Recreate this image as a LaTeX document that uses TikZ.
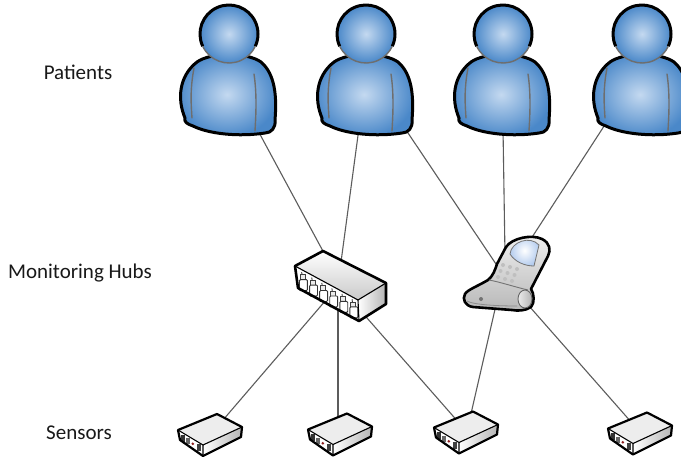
\documentclass[tikz,border=0pt]{standalone}
\usepackage{fontspec}
\setmainfont{Carlito}
\usetikzlibrary{calc}

\definecolor{bluehi}{HTML}{C4D9F0}
\definecolor{bluelo}{HTML}{4A88C9}
\definecolor{armgray}{HTML}{6E6E6E}
\definecolor{linkgray}{HTML}{5C5C5C}
\definecolor{boxtop}{HTML}{EDEDED}
\definecolor{boxside}{HTML}{B4B4B4}
\definecolor{screenblue}{HTML}{B4CCEE}
\definecolor{ledred}{HTML}{8E1F1F}

\tikzset{
  link/.style={draw=linkgray, line width=1.1pt},
  tierlabel/.style={font=\fontsize{21}{25}\selectfont, text=black!90},
  heavy/.style={draw=black, line width=3pt, line join=round},
  edge/.style={draw=black, line width=1.1pt, line join=round},
  armline/.style={draw=armgray, line width=1.4pt, line cap=round},
  % person icon, origin at the centre of the head
  patient/.pic={
    \shadedraw[inner color=bluehi, outer color=bluelo, heavy]
      (-44,84) .. controls (-52,65) and (-50,42) .. (-32,28)
      .. controls (-18,18) and (18,18) .. (32,28)
      .. controls (46,40) and (48,62) .. (46,86)
      .. controls (47,94) and (42,99) .. (36,99)
      .. controls (10,103) and (-20,100) .. (-36,92)
      .. controls (-42,90) and (-45,88) .. (-44,84) -- cycle;
    \draw[armline] (-35,34) .. controls (-39,55) and (-38,70) .. (-37,84);
    \draw[armline] (25,40) .. controls (28,60) and (27,80) .. (26,97);
    \shade[inner color=bluehi, outer color=bluelo] (0,0) circle[radius=29pt];
    \draw[black, line width=3pt] (0,0) ++(205:29pt)
      arc[start angle=205, end angle=-25, radius=29pt];
    \draw[armgray, line width=1.4pt] (0,0) ++(205:29pt)
      arc[start angle=205, end angle=335, radius=29pt];
  },
  % small sensor box, origin at the centre of its top face
  sensorbox/.pic={
    \fill[boxtop] (-32,1.5) -- (7,-14.5) -- (32,-1.5) -- (-7,16.5) -- cycle;
    \fill[white] (-32,1.5) -- (-7,16.5) -- (-7,27.5) -- (-30,11.5) -- cycle;
    \shade[left color=white, right color=boxside]
      (-7,16.5) -- (32,-1.5) -- (31,8.5) -- (-7,27.5) -- cycle;
    \begin{scope}[shift={(-32,1.5)}, x={(25pt,-15pt)}, y={(2pt,-10pt)}]
      \fill[black!80] (0.1,0.3) rectangle (0.22,0.85);
      \fill[black!60] (0.3,0.35) rectangle (0.4,0.8);
      \fill[ledred] (0.55,0.55) circle[radius=1.4pt];
      \fill[black!75] (0.72,0.35) rectangle (0.84,0.85);
    \end{scope}
    \draw[edge] (-32,1.5) -- (-7,16.5) -- (32,-1.5) (-7,16.5) -- (-7,27.5);
    \draw[draw=black, line width=2.2pt, line join=round]
      (-32,1.5) -- (7,-14.5) -- (32,-1.5) -- (31,8.5) -- (-7,27.5)
      -- (-30,11.5) -- cycle;
  }
}

\begin{document}
\begin{tikzpicture}[x=1pt, y=-1pt]
  \useasboundingbox[fill=white] (0,0) rectangle (681,459);

  % tier labels
  \node[tierlabel] (lblpatients) at (78,72) {Patients};
  \node[tierlabel] (lblhubs) at (80,273) {Monitoring Hubs};
  \node[tierlabel] (lblsensors) at (79,433) {Sensors};

  % anchor points of the devices
  \coordinate (p1) at (229,34);
  \coordinate (p2) at (366,34);
  \coordinate (p3) at (503,34);
  \coordinate (p4) at (642,34);
  \coordinate (hub) at (340,285);
  \coordinate (phone) at (510,278);
  \coordinate (s1) at (210,428.5);
  \coordinate (s2) at (340,428);
  \coordinate (s3) at (466,426);
  \coordinate (s4) at (640,427);

  % links, drawn first so the devices sit on top
  \draw[link] ($(p1)+(27,93)$) -- ($(hub)+(-16,-32)$);
  \draw[link] ($(p2)+(-7,94)$) -- ($(hub)+(1,-23)$);
  \draw[link] ($(p2)+(38,93)$) -- ($(phone)+(-10,-8)$);
  \draw[link] ($(p3)+(0,94)$) -- ($(phone)+(-5,-23)$);
  \draw[link] ($(p4)+(-34,86)$) -- ($(phone)+(17,-33)$);
  \draw[link] ($(hub)+(-14,15)$) -- ($(s1)+(13,-8.5)$);
  \draw[link] ($(hub)+(-2,20)$) -- ($(s2)+(-2,-10)$);
  \draw[link] ($(hub)+(20,25)$) -- ($(s3)+(-6,-2)$);
  \draw[link] ($(phone)+(-14,27)$) -- ($(s3)+(4,-8)$);
  \draw[link] ($(phone)+(12,20)$) -- ($(s4)+(-8,-4)$);

  % patients
  \pic at (p1) {patient};
  \pic at (p2) {patient};
  \pic at (p3) {patient};
  \pic at (p4) {patient};

  % switch-style monitoring hub
  \begin{scope}[shift={(hub)}]
    \shade[top color=white, bottom color=boxtop!85!black]
      (-45,-19) -- (-17,-34) -- (46,-2) -- (18,15) -- cycle;
    \fill[white] (-45,-19) -- (18,15) -- (19,36) -- (-42,3) -- cycle;
    \shade[left color=white, right color=boxside]
      (18,15) -- (46,-2) -- (46,19) -- (19,36) -- cycle;
    \begin{scope}[shift={(-45,-19)}, x={(63pt,-34pt)}, y={(3pt,-22pt)}]
      \foreach \t in {0.1,0.26,0.42,0.58,0.74,0.9} {
        \draw[black!75, line width=0.9pt] (\t,0.12) -- (\t,0.4);
        \draw[black!75, line width=0.8pt, fill=black!8]
          (\t-0.035,0.3) rectangle (\t+0.035,0.5);
        \draw[black!80, line width=0.9pt, fill=white, rounded corners=1pt]
          (\t-0.055,0.55) rectangle (\t+0.055,0.88);
      }
    \end{scope}
    \draw[edge] (-45,-19) -- (18,15) -- (46,-2) (18,15) -- (19,36);
    \draw[draw=black, line width=2.6pt, line join=round]
      (-45,-19) -- (-17,-34) -- (46,-2) -- (46,19) -- (19,36) -- (-42,3) -- cycle;
  \end{scope}

  % flip phone
  \shadedraw[top color=black!6, bottom color=black!28, draw=black,
      line width=2.6pt, line join=round]
    (506,247) .. controls (512,238) and (532,234) .. (542,239)
    .. controls (550,243) and (551,250) .. (548,256) -- (531,289)
    .. controls (534,293) and (535,303) .. (531,307)
    .. controls (525,311) and (518,311) .. (512,310) -- (473,307)
    .. controls (465,306) and (462,299) .. (465,294)
    .. controls (467,290) and (478,286) .. (488,280)
    .. controls (493,276) and (495,270) .. (497,264) -- cycle;
  \shadedraw[inner color=white, outer color=screenblue, draw=black!55, line width=0.8pt]
    (510,254) .. controls (511,242) and (530,235) .. (539,245)
    -- (534,266) .. controls (525,266) and (515,262) .. (510,254) -- cycle;
  \foreach \r in {0,1,2} {
    \foreach \c in {0,1,2} {
      \fill[black!25] ($(503,265)+\c*(7,2)+\r*(-2.5,6)$) circle[radius=2pt];
    }
  }
  \draw[black!55, line width=0.9pt] (489,280) .. controls (500,282) and (515,287) .. (528,290);
  \draw[black!45, line width=0.8pt] (467,301) .. controls (474,305) and (500,306) .. (517,306);
  \shadedraw[left color=black!8, right color=black!30, draw=black!60, line width=0.9pt]
    (525,299) ellipse[x radius=7pt, y radius=9pt];
  \fill[black!55] (481,299) circle[radius=2pt];

  % sensors
  \pic at (s1) {sensorbox};
  \pic at (s2) {sensorbox};
  \pic at (s3) {sensorbox};
  \pic at (s4) {sensorbox};
\end{tikzpicture}
\end{document}
